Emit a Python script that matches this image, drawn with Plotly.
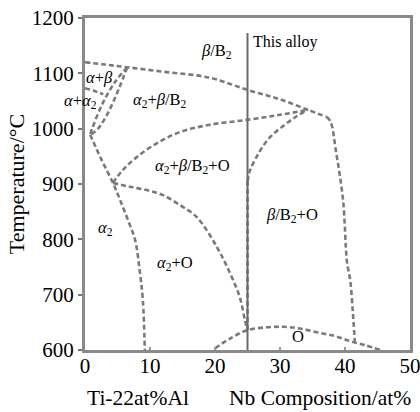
import plotly.graph_objects as go

# Phase boundaries (x = Nb at%, y = Temperature °C)
beta_transus_x = [0, 3, 6.5, 12, 19.2, 25, 30, 34.3, 37.2]
beta_transus_y = [1120, 1116, 1111, 1103, 1092, 1070, 1053, 1034, 1021]

right_bound_x = [37.2, 37.8, 38.6, 39.7, 40.3, 40.8, 41.2, 41.5]
right_bound_y = [1021, 1012, 960, 871, 760, 726, 670, 616]

ab_lower_x = [0, 1.5, 2.8]
ab_lower_y = [1073, 1068, 1062]

diag1_x = [6.5, 4.6, 2.6, 1.1, 0.8]
diag1_y = [1111, 1084, 1043, 1000, 989]

diag2_x = [6.5, 5.2, 3.6, 2.0, 0.8]
diag2_y = [1111, 1072, 1030, 1000, 989]

a2_solvus_x = [0.8, 2.5, 4.3, 5.4, 6.6, 7.7, 8.4, 8.9, 9.2]
a2_solvus_y = [989, 945, 902, 871, 835, 799, 745, 690, 600]

a2b_lower_x = [4.3, 5.8, 8.0, 11.1, 14.6, 19.2, 25, 30, 34.3]
a2b_lower_y = [902, 925, 949, 974, 994, 1007, 1016, 1025, 1034]

o_solvus_x = [4.3, 6.9, 9.5, 12, 14.6, 17.2, 20.3, 22.3, 23.8, 24.6, 25]
o_solvus_y = [902, 895, 889, 880, 862, 840, 786, 739, 696, 654, 636]

bo_upper_x = [25, 25.4, 26.3, 27.2, 28.5, 30.5, 32.5, 34.3]
bo_upper_y = [905, 925, 947, 965, 985, 1005, 1022, 1034]

alloy_dash_x = [25, 25]
alloy_dash_y = [636, 905]

o_dome_x = [20, 22.5, 25, 28, 30.5, 33, 35.7, 38.5, 40.8, 43, 45.4]
o_dome_y = [603, 622, 636, 641, 642, 639, 632, 625, 616, 609, 600]

alloy_x = [25, 25]
alloy_y = [600, 1173]

x_ticks = [0, 10, 20, 30, 40, 50]
y_ticks = [600, 700, 800, 900, 1000, 1100, 1200]

labels = [
    (20.3, 1140, "<i>β</i>/B<sub>2</sub>", 0),
    (2.3, 1092, "<i>α</i>+<i>β</i>", 0),
    (0.1, 1050, "<i>α</i>+<i>α</i><sub>2</sub>", -5),
    (11.5, 1052, "<i>α</i><sub>2</sub>+<i>β</i>/B<sub>2</sub>", 0),
    (16.5, 932, "<i>α</i><sub>2</sub>+<i>β</i>/B<sub>2</sub>+O", 0),
    (3.1, 820, "<i>α</i><sub>2</sub>", 0),
    (13.8, 757, "<i>α</i><sub>2</sub>+O", 0),
    (31.8, 844, "<i>β</i>/B<sub>2</sub>+O", 0),
    (32.8, 624, "O", 0),
]

FONT = "Liberation Serif"
DASH_COLOR = "#7a7a7a"

fig = go.Figure()
dashed = [
    (beta_transus_x, beta_transus_y), (right_bound_x, right_bound_y),
    (ab_lower_x, ab_lower_y), (diag1_x, diag1_y), (diag2_x, diag2_y),
    (a2_solvus_x, a2_solvus_y), (a2b_lower_x, a2b_lower_y),
    (o_solvus_x, o_solvus_y), (bo_upper_x, bo_upper_y),
    (alloy_dash_x, alloy_dash_y), (o_dome_x, o_dome_y),
]
for xs, ys in dashed:
    fig.add_trace(go.Scatter(x=xs, y=ys, mode="lines", line_shape="spline",
                             line=dict(color=DASH_COLOR, width=2.6, dash="5px,3px"),
                             showlegend=False, hoverinfo="skip"))

fig.add_trace(go.Scatter(x=alloy_x, y=alloy_y, mode="lines",
                         line=dict(color="#6a6a6a", width=2),
                         showlegend=False, hoverinfo="skip"))

for x, y, t, dx in labels:
    fig.add_annotation(x=x, y=y, text=t, showarrow=False, xshift=dx,
                       font=dict(family=FONT, size=16.5, color="black"))

fig.add_annotation(x=25.6, y=1156, text="This alloy", showarrow=False, xanchor="left",
                   font=dict(family=FONT, size=16, color="black"))

fig.add_annotation(xref="paper", yref="paper", x=0.0, y=-0.145, xanchor="left",
                   yanchor="middle", text="Ti-22at%Al", showarrow=False,
                   font=dict(family=FONT, size=21.5, color="black"))
fig.add_annotation(xref="paper", yref="paper", x=1.01, y=-0.145, xanchor="right",
                   yanchor="middle", text="Nb Composition/at%", showarrow=False,
                   font=dict(family=FONT, size=21.5, color="black"))

fig.update_layout(
    width=420, height=412,
    margin=dict(l=85, r=10, t=18, b=62, autoexpand=False),
    plot_bgcolor="white", paper_bgcolor="white",
    font=dict(family=FONT, size=21, color="black"),
    hovermode=False,
    xaxis=dict(range=[0, 50], tickvals=x_ticks, showgrid=False, zeroline=False,
               showline=True, mirror=True, linecolor="#8a8a8a", linewidth=3,
               ticks="inside", ticklen=3, tickcolor="#999", tickwidth=1.5,
               automargin=False, ticklabelstandoff=-5, ticklabeloverflow="allow",
               tickfont=dict(family=FONT, size=21)),
    yaxis=dict(range=[600, 1200], tickvals=y_ticks, showgrid=False, zeroline=False,
               showline=True, mirror=True, linecolor="#8a8a8a", linewidth=3,
               ticks="outside", ticklen=4, tickcolor="#777", tickwidth=1.5,
               automargin=False, ticklabeloverflow="allow",
               tickfont=dict(family=FONT, size=21),
               title=dict(text="Temperature/°C", font=dict(family=FONT, size=22), standoff=2)),
)

fig.write_html("out.html", config={"displayModeBar": False},
               post_script="document.body.style.margin='0px';document.body.style.overflow='hidden';")
